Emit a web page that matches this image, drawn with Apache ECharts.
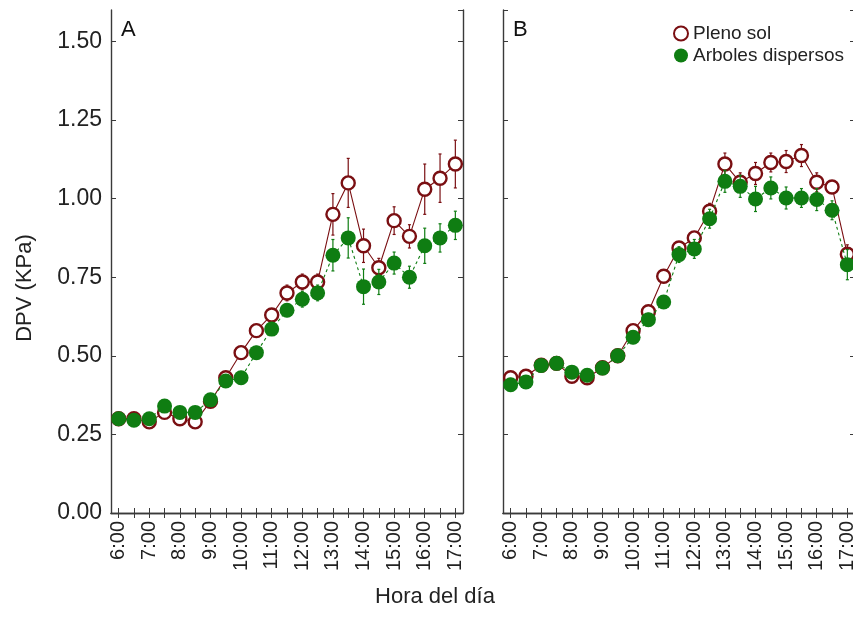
<!DOCTYPE html>
<html>
<head>
<meta charset="utf-8">
<script src="https://cdn.jsdelivr.net/npm/echarts@6/dist/echarts.min.js"></script>
<style>html,body{margin:0;padding:0;background:#fff;overflow:hidden}#c{width:862px;height:623px}</style>
</head>
<body>
<div id="c"></div>
<script>
const hours = ['6:00','6:30','7:00','7:30','8:00','8:30','9:00','9:30','10:00','10:30','11:00','11:30','12:00','12:30','13:00','13:30','14:00','14:30','15:00','15:30','16:00','16:30','17:00'];
const yTicks = [0, 0.25, 0.5, 0.75, 1.0, 1.25, 1.5];

const sunA   = [0.30,0.30,0.29,0.32,0.30,0.29,0.355,0.43,0.51,0.58,0.63,0.70,0.735,0.735,0.95,1.05,0.85,0.78,0.93,0.88,1.03,1.065,1.11];
const sunAErr = [0.01,0.01,0.012,0.015,0.012,0.012,0.015,0.02,0.02,0.02,0.02,0.025,0.025,0.025,0.066,0.078,0.053,0.03,0.044,0.037,0.08,0.077,0.076];
const shadeA = [0.30,0.295,0.30,0.34,0.32,0.32,0.36,0.42,0.43,0.51,0.585,0.645,0.68,0.70,0.82,0.875,0.72,0.735,0.795,0.75,0.85,0.875,0.915];
const shadeAErr = [0.015,0.012,0.012,0.02,0.018,0.018,0.02,0.02,0.02,0.02,0.02,0.02,0.025,0.025,0.05,0.064,0.056,0.04,0.035,0.035,0.056,0.045,0.045];

const sunB   = [0.43,0.435,0.47,0.476,0.435,0.43,0.462,0.50,0.58,0.64,0.753,0.843,0.875,0.96,1.11,1.052,1.08,1.115,1.118,1.137,1.052,1.037,0.823];
const sunBErr = [0.015,0.015,0.012,0.012,0.015,0.015,0.015,0.015,0.015,0.02,0.02,0.02,0.02,0.025,0.035,0.03,0.035,0.03,0.035,0.035,0.03,0.02,0.03];
const shadeB = [0.408,0.417,0.469,0.476,0.448,0.438,0.461,0.50,0.559,0.615,0.671,0.822,0.84,0.936,1.055,1.039,0.999,1.034,1.002,1.002,0.997,0.963,0.79];
const shadeBErr = [0.02,0.02,0.015,0.015,0.02,0.02,0.02,0.02,0.02,0.02,0.02,0.025,0.03,0.03,0.035,0.035,0.04,0.035,0.035,0.03,0.035,0.03,0.048];

const RED = '#7a0f12';
const GREEN = '#0f7d12';
const FRAME = '#3a3a3a';
const FONT = 'Liberation Sans, Arial, sans-serif';

function errData(vals, errs){ return vals.map((v,i)=>[i, v, errs[i]]); }
function errRender(color){
  return function(params, api){
    const i = api.value(0), v = api.value(1), e = api.value(2);
    const t = api.coord([i, v + e]);
    const b = api.coord([i, v - e]);
    const c = 1.5;
    const st = {stroke: color, lineWidth: 1.2};
    return {type:'group', children:[
      {type:'line', shape:{x1:t[0], y1:t[1], x2:b[0], y2:b[1]}, style:st},
      {type:'line', shape:{x1:t[0]-c, y1:t[1], x2:t[0]+c, y2:t[1]}, style:st},
      {type:'line', shape:{x1:b[0]-c, y1:b[1], x2:b[0]+c, y2:b[1]}, style:st}
    ]};
  };
}

function xBottom(gi){
  return {type:'category', gridIndex:gi, data:hours, position:'bottom', boundaryGap:true,
    axisLine:{show:true, lineStyle:{color:FRAME, width:1.4}},
    axisTick:{show:true, inside:true, length:5, interval:0, alignWithLabel:true, lineStyle:{color:FRAME, width:1}},
    axisLabel:{show:true, interval:1, rotate:90, margin:8, color:'#222', fontSize:20, fontFamily:FONT},
    splitLine:{show:false}};
}
function xTop(gi){
  return {type:'category', gridIndex:gi, data:hours, position:'top', boundaryGap:true,
    axisLine:{show:true, lineStyle:{color:FRAME, width:1.4}},
    axisTick:{show:true, inside:true, length:5, interval:0, alignWithLabel:true, lineStyle:{color:FRAME, width:1}},
    axisLabel:{show:false}, splitLine:{show:false}};
}
function yLeft(gi, labels){
  return {type:'value', gridIndex:gi, min:0, max:1.6, interval:0.25, position:'left',
    axisLine:{show:true, lineStyle:{color:FRAME, width:1.4}},
    axisTick:{show:true, inside:true, length:5, lineStyle:{color:FRAME, width:1}},
    axisLabel:{show:labels, showMaxLabel:false, margin:9, color:'#222', fontSize:23, fontFamily:FONT,
      formatter:v=>v.toFixed(2)},
    splitLine:{show:false}};
}
function yRight(gi){
  return {type:'value', gridIndex:gi, min:0, max:1.6, interval:0.25, position:'right',
    axisLine:{show:true, lineStyle:{color:FRAME, width:1.4}},
    axisTick:{show:true, inside:true, length:5, lineStyle:{color:FRAME, width:1}},
    axisLabel:{show:false}, splitLine:{show:false}};
}

function panelSeries(xi, yi, sun, sunErr, shade, shadeErr){
  return [
    {type:'custom', xAxisIndex:xi, yAxisIndex:yi, renderItem:errRender(RED), data:errData(sun, sunErr), encode:{x:0,y:1}, z:1, silent:true},
    {type:'line', name:'Pleno sol', xAxisIndex:xi, yAxisIndex:yi, data:sun, symbol:'circle', symbolSize:13, showAllSymbol:true,
      lineStyle:{color:RED, width:1.1}, itemStyle:{color:'#ffffff', borderColor:RED, borderWidth:2.4}, z:2},
    {type:'custom', xAxisIndex:xi, yAxisIndex:yi, renderItem:errRender(GREEN), data:errData(shade, shadeErr), encode:{x:0,y:1}, z:3, silent:true},
    {type:'line', name:'Arboles dispersos', xAxisIndex:xi, yAxisIndex:yi, data:shade, symbol:'circle', symbolSize:15, showAllSymbol:true,
      lineStyle:{color:GREEN, width:1.1, type:[3,3]}, itemStyle:{color:GREEN, borderColor:GREEN, borderWidth:0}, z:4}
  ];
}

const chart = echarts.init(document.getElementById('c'), null, {renderer:'canvas'});
chart.setOption({
  animation:false,
  backgroundColor:'#ffffff',
  textStyle:{fontFamily:FONT},
  grid:[
    {left:111, width:352, top:10, bottom:110, containLabel:false},
    {left:503, width:352, top:10, bottom:110, containLabel:false}
  ],
  xAxis:[xBottom(0), xTop(0), xBottom(1), xTop(1)],
  yAxis:[yLeft(0, true), yRight(0), yLeft(1, false), yRight(1)],
  legend:{
    orient:'vertical', left:668, top:19, itemWidth:14, itemHeight:14, itemGap:3, icon:'circle',
    textStyle:{fontSize:19, color:'#222', fontFamily:FONT},
    data:['Pleno sol','Arboles dispersos']
  },
  graphic:[
    {type:'text', left:121, top:19, style:{text:'A', fontSize:22, fill:'#111', fontFamily:FONT}},
    {type:'text', left:513, top:19, style:{text:'B', fontSize:22, fill:'#111', fontFamily:FONT}},
    {type:'text', x:25, y:288, rotation:Math.PI/2, style:{text:'DPV (KPa)', fontSize:22, fill:'#222', fontFamily:FONT, align:'center', verticalAlign:'middle'}},
    {type:'text', x:435, y:597, style:{text:'Hora del día', fontSize:22, fill:'#222', fontFamily:FONT, align:'center', verticalAlign:'middle'}}
  ],
  series:[].concat(
    panelSeries(0, 0, sunA, sunAErr, shadeA, shadeAErr),
    panelSeries(2, 2, sunB, sunBErr, shadeB, shadeBErr)
  )
});
</script>
</body>
</html>
